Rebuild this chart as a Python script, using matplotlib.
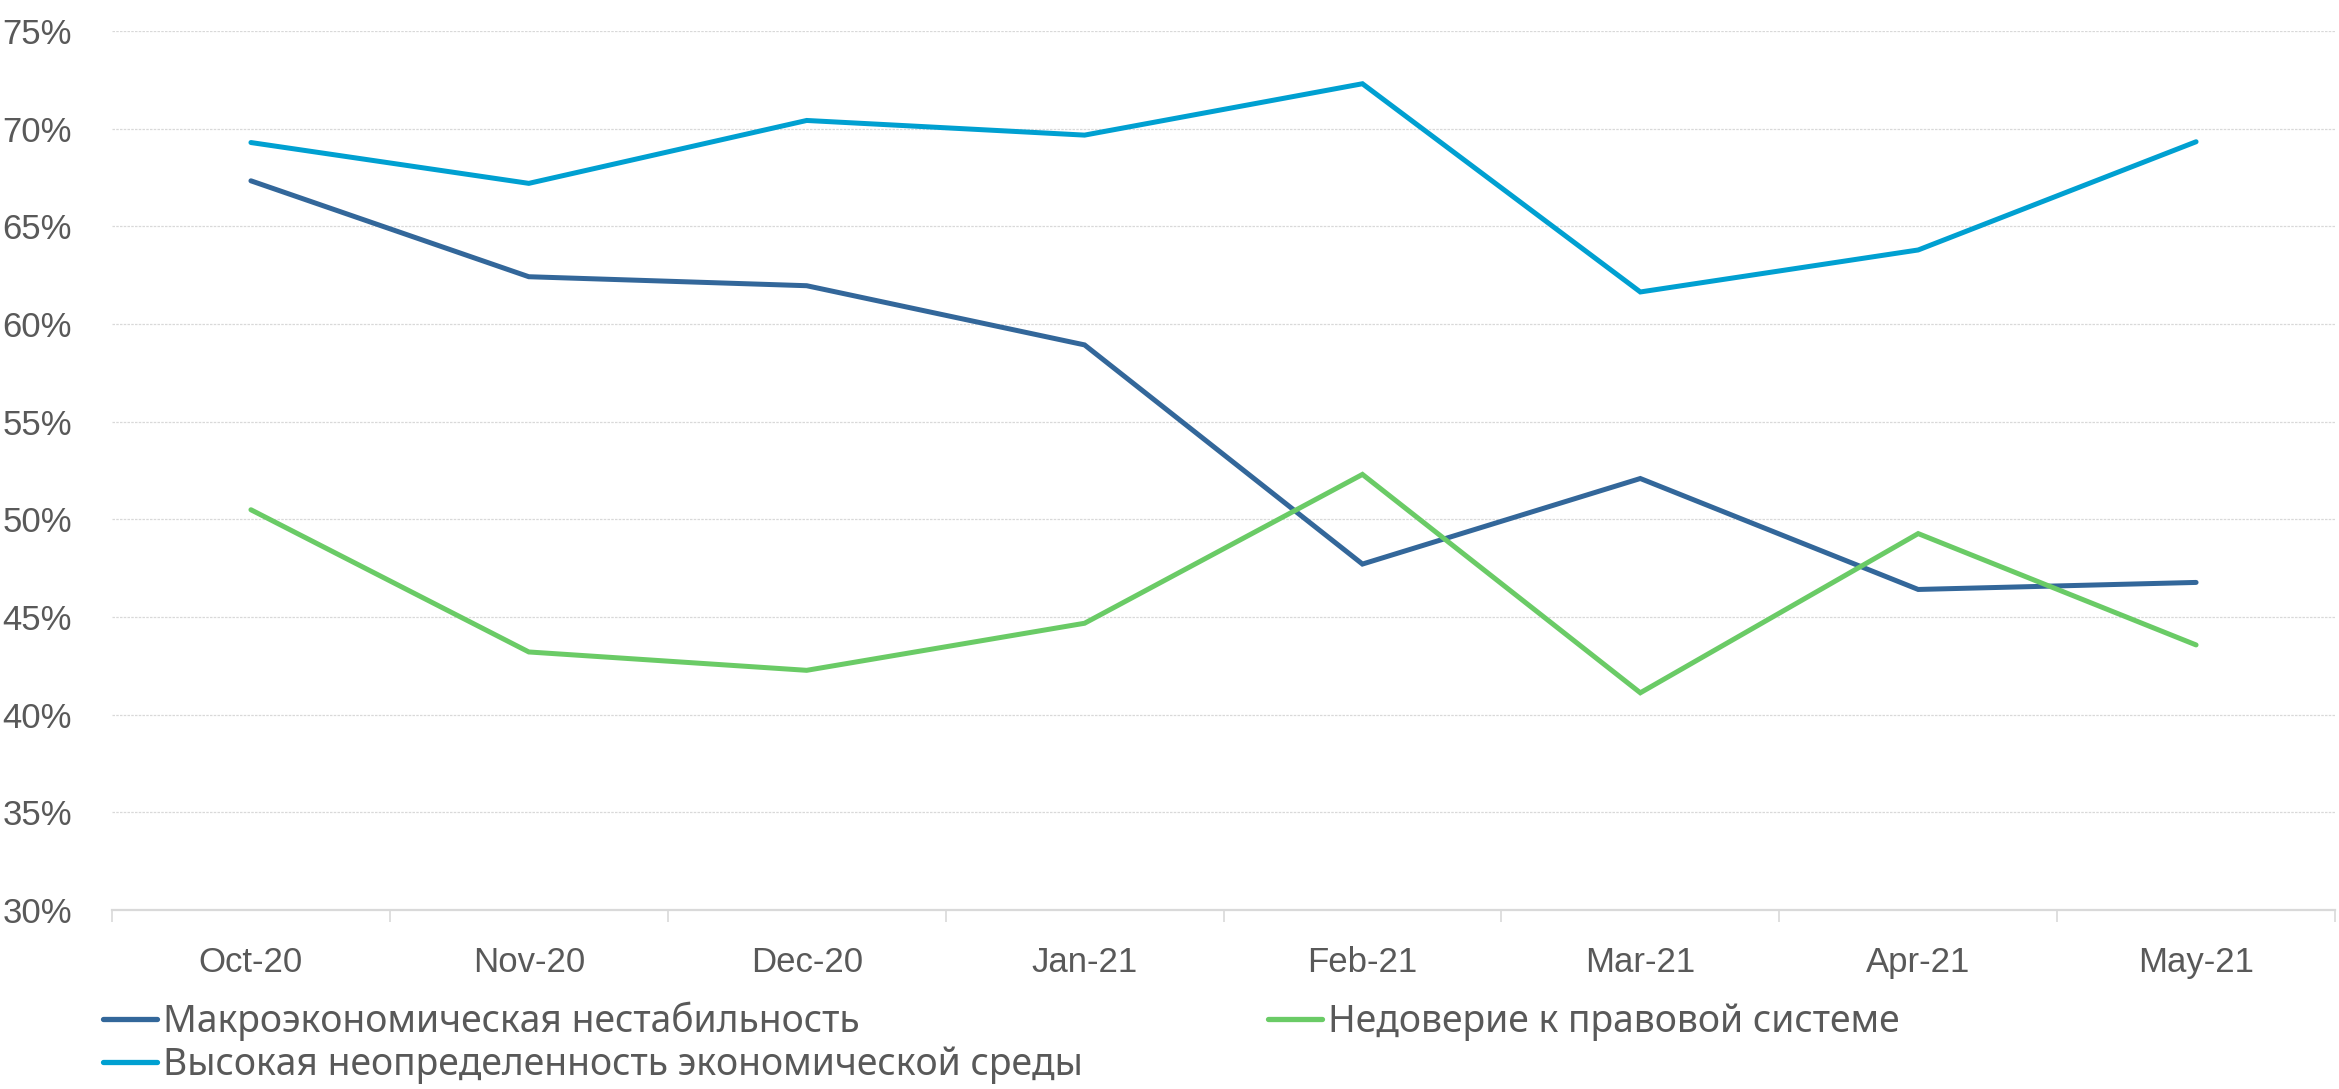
import matplotlib
matplotlib.use("Agg")
import matplotlib.pyplot as plt
from matplotlib import font_manager
from matplotlib.ticker import FixedLocator, NullFormatter, FixedFormatter

# ---- data ----
months = ["Oct-20", "Nov-20", "Dec-20", "Jan-21", "Feb-21", "Mar-21", "Apr-21", "May-21"]
macro = [67.33, 62.42, 61.96, 58.93, 47.71, 52.09, 46.41, 46.77]
distrust = [50.49, 43.21, 42.27, 44.68, 52.30, 41.12, 49.27, 43.57]
uncertainty = [69.29, 67.20, 70.42, 69.67, 72.30, 61.64, 63.79, 69.33]

label_macro = "Макроэкономическая нестабильность"
label_distrust = "Недоверие к правовой системе"
label_uncert = "Высокая неопределенность экономической среды"

y_ticks = [30, 35, 40, 45, 50, 55, 60, 65, 70, 75]

# ---- styling ----
names = {f.name for f in font_manager.fontManager.ttflist}
narrow = "Liberation Sans Narrow" if "Liberation Sans Narrow" in names else "Liberation Sans"
tick_fs = 29 if narrow == "Liberation Sans Narrow" else 25
legend_font = "Noto Sans"

c_macro = "#33679A"
c_uncert = "#00A0D1"
c_distrust = "#6ACB66"
text_col = "#595959"
grid_col = "#D9D9D9"

W, H, DPI = 2339, 1089, 100
fig = plt.figure(figsize=(W / DPI, H / DPI), dpi=DPI)
ax = fig.add_axes([112 / W, 1 - 910 / H, (2335 - 112) / W, (910 - 31) / H])

x = list(range(len(months)))
lw = 3.6
l1, = ax.plot(x, macro, color=c_macro, lw=lw, solid_capstyle="round", solid_joinstyle="miter", label=label_macro)
l3, = ax.plot(x, uncertainty, color=c_uncert, lw=lw, solid_capstyle="round", solid_joinstyle="miter", label=label_uncert)
l2, = ax.plot(x, distrust, color=c_distrust, lw=lw, solid_capstyle="round", solid_joinstyle="miter", label=label_distrust)

ax.set_xlim(-0.5, len(months) - 0.5)
ax.set_ylim(30, 75)

# y axis
ax.set_yticks(y_ticks)
ax.set_yticklabels([f"{v}%" for v in y_ticks])
ax.tick_params(axis="y", length=0, pad=28.8, labelsize=tick_fs, labelcolor=text_col)
for lab in ax.get_yticklabels():
    lab.set_fontfamily(narrow)
ax.grid(axis="y", color=grid_col, lw=0.9, linestyle=(0, (2, 1)))
ax.set_axisbelow(True)

# x axis: boundaries as major ticks, labels on minor ticks
ax.xaxis.set_major_locator(FixedLocator([i - 0.5 for i in range(len(months) + 1)]))
ax.xaxis.set_major_formatter(NullFormatter())
ax.xaxis.set_minor_locator(FixedLocator(x))
ax.xaxis.set_minor_formatter(FixedFormatter(months))
ax.tick_params(axis="x", which="major", length=8.6, width=1.2, color=grid_col)
ax.tick_params(axis="x", which="minor", length=0, pad=26, labelsize=tick_fs, labelcolor=text_col)
for lab in ax.xaxis.get_minorticklabels():
    lab.set_fontfamily(narrow)

for s in ["top", "right", "left"]:
    ax.spines[s].set_visible(False)
ax.spines["bottom"].set_color(grid_col)
ax.spines["bottom"].set_linewidth(1.6)

# legends
fs = 26.9
leg1 = fig.legend(handles=[l1, l3], loc="center left",
                  bbox_to_anchor=(103 / W, 1 - 1043 / H),
                  frameon=False, handlelength=1.45, handletextpad=0.15,
                  labelspacing=0.12, borderpad=0, borderaxespad=0,
                  prop={"family": legend_font, "size": fs})
for t in leg1.get_texts():
    t.set_color(text_col)
for lh in leg1.get_lines():
    lh.set_linewidth(3.8)
leg2 = fig.legend(handles=[l2], loc="center left",
                  bbox_to_anchor=(1268 / W, 1 - 1022 / H),
                  frameon=False, handlelength=1.45, handletextpad=0.15,
                  borderpad=0, borderaxespad=0,
                  prop={"family": legend_font, "size": fs})
for t in leg2.get_texts():
    t.set_color(text_col)
for lh in leg2.get_lines():
    lh.set_linewidth(3.8)

fig.savefig("out.png", dpi=DPI, facecolor="white")
